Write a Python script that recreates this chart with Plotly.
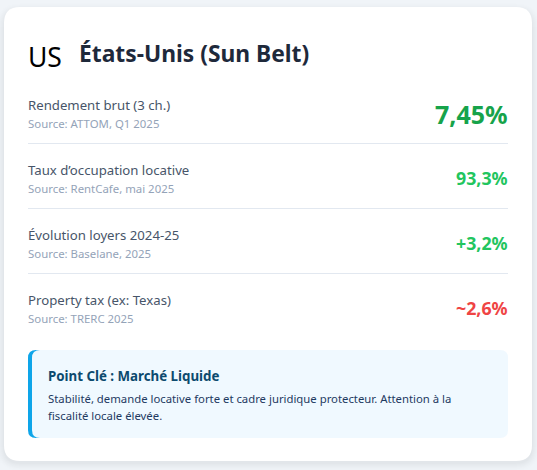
import plotly.graph_objects as go

W, H = 537, 470
FONT = "Noto Sans"
BG = "#f0f4f8"

flag = "US"
title = "États-Unis (Sun Belt)"
metric_labels = ["Rendement brut (3 ch.)", "Taux d’occupation locative", "Évolution loyers 2024-25", "Property tax (ex: Texas)"]
metric_sources = ["Source: ATTOM, Q1 2025", "Source: RentCafe, mai 2025", "Source: Baselane, 2025", "Source: TRERC 2025"]
metric_values = ["7,45%", "93,3%", "+3,2%", "~2,6%"]
metric_colors = ["#16a34a", "#22c55e", "#22c55e", "#ef4444"]
metric_sizes = [25, 17.8, 17.8, 17.8]
row_label_y = [105, 170, 235, 300]
row_source_y = [123.5, 188.5, 253.5, 318.5]
row_value_y = [114, 178, 243, 308]
divider_y = [143.5, 208.5, 273.5]
callout_title = "Point Clé : Marché Liquide"
callout_lines = ["Stabilité, demande locative forte et cadre juridique protecteur. Attention à la",
                 "fiscalité locale élevée."]


def rr(x0, y0, x1, y1, r):
    return (f"M{x0+r},{y0} L{x1-r},{y0} Q{x1},{y0} {x1},{y0+r} L{x1},{y1-r} Q{x1},{y1} {x1-r},{y1} "
            f"L{x0+r},{y1} Q{x0},{y1} {x0},{y1-r} L{x0},{y0+r} Q{x0},{y0} {x0+r},{y0} Z")


shapes = []
# soft card shadow
for i, a in zip(range(8, 0, -1), [.003, .004, .005, .006, .007, .008, .009, .01]):
    shapes.append(dict(type="path", path=rr(4 - i, 7 - i + 4, 532 + i, 461 + i + 2, 16 + i),
                       fillcolor=f"rgba(15,23,42,{a})", line_width=0, layer="below"))
shapes.append(dict(type="path", path=rr(4, 7, 532, 461, 16), fillcolor="white", line_width=0, layer="below"))
for y in divider_y:
    shapes.append(dict(type="line", x0=28, x1=508, y0=y, y1=y, line=dict(color="#e2e8f0", width=1), layer="below"))
# callout
shapes.append(dict(type="path", path=rr(28, 350, 60, 438, 8), fillcolor="#0ea5e9", line_width=0, layer="below"))
shapes.append(dict(type="path", path=rr(32, 350, 508, 438, 8), fillcolor="#f0f9ff", line_width=0, layer="below"))


def txt(x, y, s, size, color, bold=False, anchor="left"):
    return dict(x=x, y=y, xref="x", yref="y", text=f"<b>{s}</b>" if bold else s, showarrow=False,
                xanchor=anchor, yanchor="middle", align=anchor,
                font=dict(family=FONT, size=size, color=color), borderpad=0, borderwidth=0)


ann = [txt(28, 57, flag, 26.5, "#000000"), txt(79, 53.5, title, 22.8, "#1e293b", True)]
for i in range(4):
    ann.append(txt(28, row_label_y[i], metric_labels[i], 13.2, "#475569"))
    ann.append(txt(28, row_source_y[i], metric_sources[i], 11.4, "#94a3b8"))
    ann.append(txt(508, row_value_y[i], metric_values[i], metric_sizes[i], metric_colors[i], True, "right"))
ann.append(txt(48, 376, callout_title, 13.3, "#0c4a6e", True))
ann.append(txt(48, 398, callout_lines[0], 11.33, "#1e3a5f"))
ann.append(txt(48, 415, callout_lines[1], 11.33, "#1e3a5f"))

fig = go.Figure()
fig.update_layout(width=W, height=H, margin=dict(l=0, r=0, t=0, b=0), paper_bgcolor=BG, plot_bgcolor=BG,
                  shapes=shapes, annotations=ann, showlegend=False,
                  xaxis=dict(range=[0, W], visible=False, fixedrange=True),
                  yaxis=dict(range=[H, 0], visible=False, fixedrange=True))
fig.write_html("out.html", config={"displayModeBar": False},
               post_script="document.body.style.margin='0';document.body.style.overflow='hidden';")
